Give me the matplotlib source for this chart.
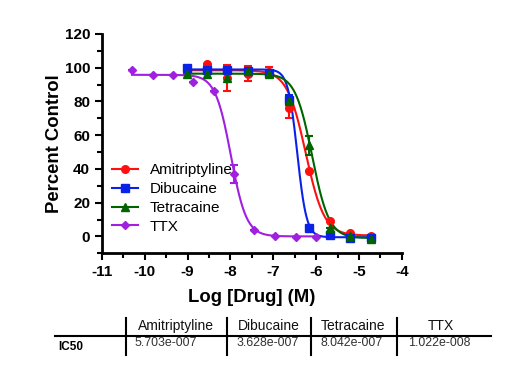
import numpy as np
import matplotlib
matplotlib.use('Agg')
import matplotlib.pyplot as plt
from matplotlib.lines import Line2D
from matplotlib.ticker import MultipleLocator

plt.rcParams['font.family'] = ['Liberation Sans', 'DejaVu Sans']
plt.rcParams['axes.unicode_minus'] = False

# 浓度 (log M)
drug_log = [-9.02, -8.54, -8.07, -7.59, -7.11, -6.64, -6.16, -5.68, -5.20, -4.73]
ttx_log = [-10.30, -9.82, -9.35, -8.87, -8.39, -7.92, -7.44, -6.96, -6.48, -6.00]

# 各药物的测量值 (% control) 和误差
ami = [99.0, 102.5, 94.0, 96.5, 97.5, 76.0, 39.0, 9.0, 2.0, 0.0]
ami_err = [0, 0, 7.5, 4.5, 3.0, 6.0, 0, 0, 0, 0]
dib = [100.0, 98.5, 98.5, 98.0, 97.0, 81.0, 5.0, 1.0, -1.0, -1.0]
dib_err = [0, 0, 0, 0, 0, 3.0, 0, 0, 0, 0]
tet = [96.0, 96.5, 94.0, 98.0, 96.0, 80.0, 54.0, 5.0, 0.0, -1.3]
tet_err = [0, 0, 0, 0, 0, 0, 5.5, 0, 0, 0]
ttx = [98.4, 95.5, 95.5, 91.5, 86.5, 37.0, 4.0, 0.3, -0.3, -0.3]
ttx_err = [0, 0, 0, 0, 0, 5.5, 0, 0, 0, 0]

# 拟合参数: top, bottom, hill slope
names = ['Amitriptyline', 'Dibucaine', 'Tetracaine', 'TTX']
ic50 = [5.703e-7, 3.628e-7, 8.042e-7, 1.022e-8]
ic50_text = ['5.703e-007', '3.628e-007', '8.042e-007', '1.022e-008']
tops = [98.5, 99.0, 96.5, 95.8]
bottoms = [0.5, -0.5, -1.0, 0.0]
hills = [2.0, 4.0, 2.2, 2.4]

colors = ['#ff1010', '#0a22e8', '#006400', '#a020e0']
markers = ['o', 's', '^', 'D']
xs = [drug_log, drug_log, drug_log, ttx_log]
ys = [ami, dib, tet, ttx]
errs = [ami_err, dib_err, tet_err, ttx_err]


def logistic(x, top, bottom, logic50, hill):
    return bottom + (top - bottom) / (1 + 10 ** (hill * (x - logic50)))


fig = plt.figure(figsize=(5.09, 3.82), dpi=100)
ax = fig.add_axes([0.2004, 0.337, 0.589, 0.574])

handles = []
for i in range(4):
    x = np.array(xs[i])
    xf = np.linspace(x.min(), x.max(), 300)
    yf = logistic(xf, tops[i], bottoms[i], np.log10(ic50[i]), hills[i])
    ax.plot(xf, yf, color=colors[i], linewidth=1.5)
    ms = 5.5 if markers[i] != 'D' else 4.5
    ax.errorbar(x, ys[i], yerr=errs[i], fmt=markers[i], color=colors[i],
                markersize=ms, elinewidth=1.5, capsize=3, capthick=1.5)
    handles.append(Line2D([0], [0], color=colors[i], marker=markers[i],
                          markersize=ms, linewidth=1.5))

ax.set_xlim(-11, -4)
ax.set_ylim(-10, 120)
ax.xaxis.set_major_locator(MultipleLocator(1))
ax.xaxis.set_minor_locator(MultipleLocator(0.5))
ax.yaxis.set_minor_locator(MultipleLocator(10))
ax.set_yticks(range(0, 121, 20))
ax.spines['top'].set_visible(False)
ax.spines['right'].set_visible(False)
ax.spines['left'].set_linewidth(2)
ax.spines['bottom'].set_linewidth(2)
ax.tick_params(which='major', direction='out', length=5, width=1.5, labelsize=11)
ax.tick_params(which='minor', direction='out', length=3.5, width=1.5)
for lab in ax.get_xticklabels() + ax.get_yticklabels():
    lab.set_fontweight('bold')
ax.set_xlabel('Log [Drug] (M)', fontsize=13.3, fontweight='bold', labelpad=7)
ax.set_ylabel('Percent Control', fontsize=13.3, fontweight='bold', labelpad=1)

ax.legend(handles, names, loc='upper left', bbox_to_anchor=(0.206, 0.593),
          bbox_transform=fig.transFigure, frameon=False, fontsize=11,
          handlelength=1.7, handletextpad=0.75, labelspacing=0.32, borderpad=0)

# 下方 IC50 表格
W, H = 509.0, 382.0


def fx(px):
    return px / W


def fy(py):
    return 1 - py / H


fig.add_artist(Line2D([fx(55), fx(491)], [fy(336), fy(336)], color='black', linewidth=1.5))
for vx in [126, 226.5, 310.5, 397]:
    fig.add_artist(Line2D([fx(vx), fx(vx)], [fy(318), fy(355)], color='black', linewidth=1.5))
head_x = [175.8, 268.8, 353, 440.8]
val_x = [165.8, 268, 352, 439]
for i in range(4):
    fig.text(fx(head_x[i]), fy(326), names[i], ha='center', va='center', fontsize=10,
             color='#111111')
    fig.text(fx(val_x[i]), fy(343), ic50_text[i], ha='center', va='center', fontsize=8.9,
             color='#333333')
fig.text(fx(58), fy(347), 'IC50', ha='left', va='center', fontsize=8.5, fontweight='bold')

plt.savefig('out.png', dpi=100)
